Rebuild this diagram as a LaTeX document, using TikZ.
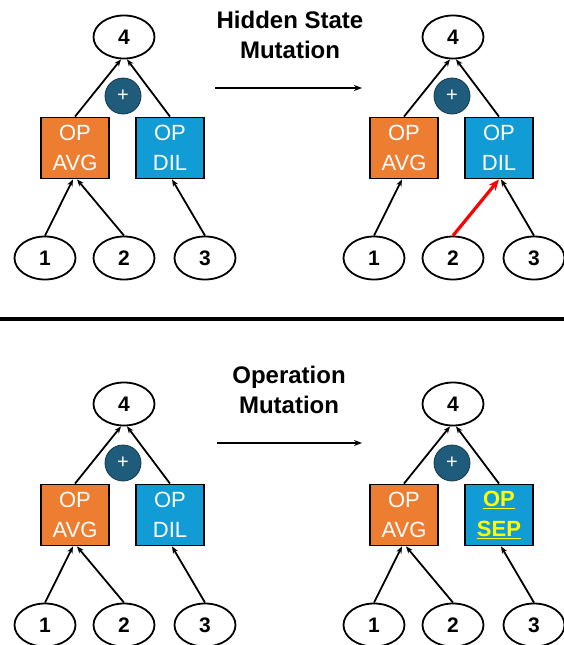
\documentclass[tikz,border=0pt]{standalone}
\usepackage{fontspec}
\setmainfont{Liberation Sans}
\usetikzlibrary{shapes.geometric,arrows.meta}
\definecolor{avgorange}{HTML}{ED7D31}
\definecolor{dilblue}{HTML}{129CD6}
\definecolor{plusteal}{HTML}{1F5C7C}
\definecolor{hiyellow}{HTML}{FFFF00}
\tikzset{
  numnode/.style={ellipse,draw=black,line width=1.8pt,fill=white,minimum width=61pt,minimum height=43pt,inner sep=0pt,font=\bfseries\fontsize{21}{21}\selectfont},
  opbox/.style={draw=black,line width=1.8pt,minimum width=68pt,minimum height=61pt,inner sep=0pt,align=center,text=white,font=\fontsize{22}{30}\selectfont},
  plusnode/.style={circle,fill=plusteal,draw=plusteal!60!black,line width=0.8pt,minimum size=36pt,inner sep=0pt,text=white,font=\fontsize{20}{20}\selectfont},
  edgearrow/.style={-{Stealth[length=7pt,width=5.5pt]},line width=1.8pt,black},
  redarrow/.style={-{Stealth[length=11pt,width=9pt]},line width=3.2pt,red},
  titletext/.style={align=center,font=\bfseries\fontsize{24}{30}\selectfont},
  mutarrow/.style={-{Stealth[length=8pt,width=6pt]},line width=1.5pt}
}
\newcommand{\mypanel}[4]{%
  \begin{scope}[shift={(#2,#3)}]
    \node[numnode] (#1n4) at (124,37) {4};
    \node[opbox,fill=avgorange] (#1avg) at (75,148) {OP\\AVG};
    \node[opbox,fill=dilblue] (#1op) at (170,148) {#4};
    \node[numnode] (#1n1) at (45,258) {1};
    \node[numnode] (#1n2) at (124,258) {2};
    \node[numnode] (#1n3) at (205,258) {3};
    \draw[edgearrow] (#1avg.north) -- ([xshift=-3pt]#1n4.south);
    \draw[edgearrow] (#1op.north) -- ([xshift=3pt]#1n4.south);
    \draw[edgearrow] (#1n1.north) -- ([xshift=-2pt]#1avg.south);
    \draw[edgearrow] (#1n3.north) -- ([xshift=2pt]#1op.south);
    \node[plusnode] (#1plus) at (123,96) {+};
  \end{scope}}
\begin{document}
\begin{tikzpicture}[x=1pt,y=-1pt]
\useasboundingbox (0,0) rectangle (564,645);
% top-left panel
\mypanel{a}{0}{0}{OP\\DIL}
\draw[edgearrow] (an2.north) -- ([xshift=2pt]aavg.south);
% top-right panel
\mypanel{b}{329}{0}{OP\\DIL}
\draw[redarrow] (bn2.north) -- (bop.south);
% bottom-left panel
\mypanel{c}{0}{367}{OP\\DIL}
\draw[edgearrow] (cn2.north) -- ([xshift=2pt]cavg.south);
% bottom-right panel
\mypanel{d}{329}{367}{\textcolor{hiyellow}{\bfseries\underline{OP}}\\\textcolor{hiyellow}{\bfseries\underline{SEP}}}
\draw[edgearrow] (dn2.north) -- ([xshift=2pt]davg.south);
% titles and mutation arrows
\node[titletext] (t1) at (290,35) {Hidden State\\Mutation};
\coordinate (m1s) at (215,88);
\coordinate (m1e) at (362,88);
\draw[mutarrow] (m1s) -- (m1e);
\node[titletext] (t2) at (289,390) {Operation\\Mutation};
\coordinate (m2s) at (217,443);
\coordinate (m2e) at (362,443);
\draw[mutarrow] (m2s) -- (m2e);
% separator
\coordinate (sepl) at (0,319);
\coordinate (sepr) at (564,319);
\draw[line width=4pt] (sepl) -- (sepr);
\end{tikzpicture}
\end{document}
